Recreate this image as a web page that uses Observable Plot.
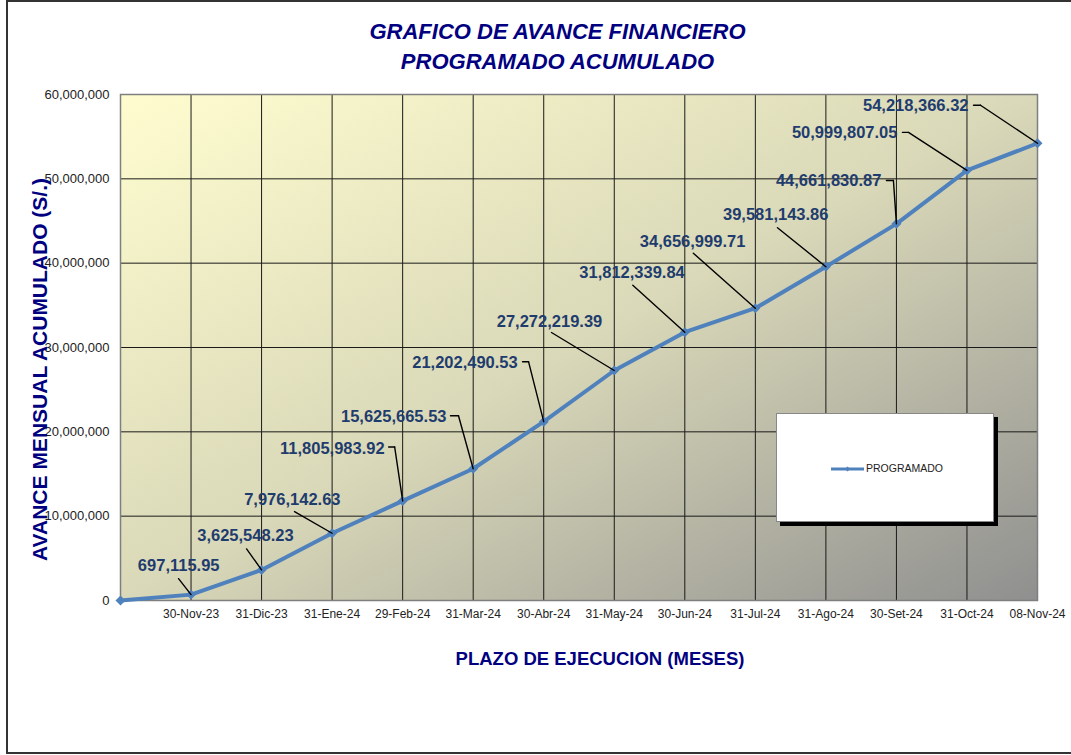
<!DOCTYPE html>
<html>
<head>
<meta charset="utf-8">
<script src="https://cdn.jsdelivr.net/npm/d3@7"></script>
<script src="https://cdn.jsdelivr.net/npm/@observablehq/plot@0.6"></script>
<style>
  body { margin: 0; background: #fff; overflow: hidden; font-family: "Liberation Sans", Arial, sans-serif; }
  #wrap { position: relative; width: 1071px; height: 755px; overflow: hidden; }
  #frame { position: absolute; left: 6px; top: 0; width: 1100px; height: 754px; border: 2px solid #333; border-right: none; box-sizing: border-box; pointer-events: none; }
  #title { position: absolute; left: 0; top: 17px; width: 1115px; text-align: center; font-size: 22px; line-height: 30px; font-weight: bold; font-style: italic; color: #000080; }
  #chart { position: absolute; left: 0; top: 80px; }
  #legend { position: absolute; left: 776px; top: 413px; width: 218px; height: 109px; background: #fff; border: 1px solid #888; box-shadow: 4px 4px 0 #000; box-sizing: border-box; }
  #legend svg { position: absolute; left: 53px; top: 50px; }
  #legend span { position: absolute; left: 89px; top: 48px; font-size: 10.5px; line-height: 12px; color: #222; }
</style>
</head>
<body>
<div id="wrap">
  <div id="title"></div>
  <div id="chart"></div>
  <div id="legend"></div>
  <div id="frame"></div>
</div>
<script>
// ---- data ----
const titleLines = ["GRAFICO DE AVANCE FINANCIERO", "PROGRAMADO ACUMULADO"];
const xTitle = "PLAZO DE EJECUCION (MESES)";
const yTitle = "AVANCE MENSUAL ACUMULADO (S/.)";
const seriesName = "PROGRAMADO";
const categories = ["", "30-Nov-23", "31-Dic-23", "31-Ene-24", "29-Feb-24", "31-Mar-24", "30-Abr-24",
  "31-May-24", "30-Jun-24", "31-Jul-24", "31-Ago-24", "30-Set-24", "31-Oct-24", "08-Nov-24"];
const values = [0, 697115.95, 3625548.23, 7976142.63, 11805983.92, 15625665.53, 21202490.53,
  27272219.39, 31812339.84, 34656999.71, 39581143.86, 44661830.87, 50999807.05, 54218366.32];
const yTicks = [0, 10000000, 20000000, 30000000, 40000000, 50000000, 60000000];
const labeled = [1, 2, 3, 4, 5, 6, 7, 8, 9, 10, 11, 12, 13];

// ---- annotation layout (pixel offsets from each point) ----
const labelDx  = [28.5, 32, 8.4, -18, -26.7, -26, -12, 0, -10, 2.6, -15, -69.5, -69];
const labelDy  = [-29, -34, -34, -52, -52, -59, -49, -59, -67, -52, -43.5, -38, -38];
const leaderDx = [-12.5, -15, -37.6, -8, -14.7, -15.2, -62.8, -52, -62, -48.4, -3, -58.5, -57];
const leaderDy = [-16, -21, -21.7, -54, -53, -60, -38, -47, -55, -39, -43.4, -38, -38];
const stubLen  = [0, 0, 0, 6, 8, 6, 0, 0, 0, 0, 7, 6, 7];

document.getElementById("title").innerHTML = titleLines.map(t => `<div>${t}</div>`).join("");

const idx = d3.range(values.length);
const fmt = d3.format(",.2f");
const X = i => categories[i];
const Y = i => values[i];
const lineColor = "#4f81bd";
const labelColor = "#1f3c6e";

const marks = [
  Plot.frame({fill: "url(#bgGrad)"}),
  Plot.gridY({ticks: yTicks, stroke: "#1a1a1a", strokeOpacity: 1, strokeWidth: 1}),
  Plot.gridX({stroke: "#1a1a1a", strokeOpacity: 1, strokeWidth: 1}),
  Plot.frame({stroke: "#7f7f7f", strokeWidth: 1.5}),
  Plot.axisY({ticks: yTicks, tickSize: 0, tickPadding: 11, tickFormat: d3.format(","), fill: "#222", label: null}),
  Plot.text(categories, {x: d => d, frameAnchor: "bottom", dy: 17, fontSize: 12, fill: "#222"}),
  Plot.line(idx, {x: X, y: Y, stroke: lineColor, strokeWidth: 4}),
  Plot.dot(idx, {x: X, y: Y, symbol: "diamond2", r: 4.5, fill: lineColor, stroke: "none"}),
  Plot.vector(d3.range(labeled.length), {
    x: k => categories[labeled[k]], y: k => values[labeled[k]],
    length: k => Math.hypot(leaderDx[k], leaderDy[k]),
    rotate: k => Math.atan2(leaderDx[k], -leaderDy[k]) * 180 / Math.PI,
    anchor: "start", r: 0, stroke: "#000", strokeWidth: 1.4
  })
];
labeled.forEach((p, k) => {
  if (stubLen[k] > 0) {
    marks.push(Plot.vector([p], {x: X, y: Y, dx: leaderDx[k], dy: leaderDy[k], length: stubLen[k], rotate: -90,
      anchor: "start", r: 0, stroke: "#000", strokeWidth: 1.4}));
  }
  marks.push(Plot.text([p], {x: X, y: Y, text: i => fmt(values[i]), dx: labelDx[k], dy: labelDy[k],
    textAnchor: "end", fontSize: 16.5, fontWeight: "bold", fill: labelColor}));
});
marks.push(Plot.text([xTitle], {frameAnchor: "bottom", dx: 21, dy: 64, fontSize: 18.5, fontWeight: "bold", fill: "#000080"}));
marks.push(Plot.text([yTitle], {frameAnchor: "left", textAnchor: "middle", rotate: -90, dx: -80, dy: 22, fontSize: 21, fontWeight: "bold", fill: "#000080"}));

const chart = Plot.plot({
  width: 1071,
  height: 675,
  marginTop: 14,
  marginBottom: 155,
  marginLeft: 120,
  marginRight: 34,
  style: {fontFamily: "'Liberation Sans', Arial, sans-serif", fontSize: "13px", background: "transparent"},
  x: {type: "point", domain: categories, padding: 0, round: false, axis: null},
  y: {domain: [0, 60000000]},
  length: {type: "identity"},
  marks
});
const svg = chart.tagName.toLowerCase() === "svg" ? chart : chart.querySelector("svg");
const defs = d3.select(svg).insert("defs", ":first-child");
const g = defs.append("linearGradient").attr("id", "bgGrad").attr("x1", 0).attr("y1", 0).attr("x2", 1).attr("y2", 1);
g.append("stop").attr("offset", 0).attr("stop-color", "#fffdcf");
g.append("stop").attr("offset", 0.5).attr("stop-color", "#d9d8b8");
g.append("stop").attr("offset", 1).attr("stop-color", "#8f8f8f");
document.getElementById("chart").appendChild(chart);

// legend
const leg = document.getElementById("legend");
leg.innerHTML = `<svg width="36" height="10"><line x1="1" y1="5" x2="34" y2="5" stroke="${lineColor}" stroke-width="3"/>` +
  `<path d="M17.5,2.5 L20,5 L17.5,7.5 L15,5 Z" fill="${lineColor}"/></svg><span>${seriesName}</span>`;
</script>
</body>
</html>
